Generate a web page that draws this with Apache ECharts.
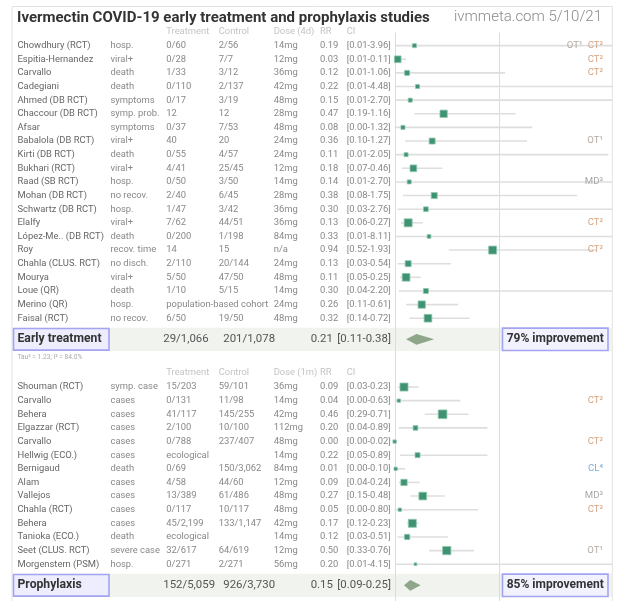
<!DOCTYPE html>
<html><head><meta charset="utf-8">
<script src="https://cdn.jsdelivr.net/npm/echarts@6/dist/echarts.min.js"></script>
<style>html,body{margin:0;padding:0;background:#fff}#c{width:621px;height:601px}</style>
</head><body><div id="c"></div>
<script>
// ---------------- data ----------------
const headersEarly = ['Treatment', 'Control', 'Dose (4d)', 'RR', 'CI'];
const headersProph = ['Treatment', 'Control', 'Dose (1m)', 'RR', 'CI'];

const earlyStudies = ['Chowdhury (RCT)','Espitia-Hernandez','Carvallo','Cadegiani','Ahmed (DB RCT)','Chaccour (DB RCT)','Afsar','Babalola (DB RCT)','Kirti (DB RCT)','Bukhari (RCT)','Raad (SB RCT)','Mohan (DB RCT)','Schwartz (DB RCT)','Elalfy','López-Me.. (DB RCT)','Roy','Chahla (CLUS. RCT)','Mourya','Loue (QR)','Merino (QR)','Faisal (RCT)'];
const earlyOutcome = ['hosp.','viral+','death','death','symptoms','symp. prob.','symptoms','viral+','death','viral+','hosp.','no recov.','hosp.','viral+','death','recov. time','no disch.','viral+','death','hosp.','no recov.'];
const earlyTreatment = ['0/60','0/28','1/33','0/110','0/17','12','0/37','40','0/55','4/41','0/50','2/40','1/47','7/62','0/200','14','2/110','5/50','1/10','population-based cohort','6/50'];
const earlyControl = ['2/56','7/7','3/12','2/137','3/19','12','7/53','20','4/57','25/45','3/50','6/45','3/42','44/51','1/198','15','20/144','47/50','5/15','','19/50'];
const earlyDose = ['14mg','12mg','36mg','42mg','48mg','28mg','48mg','24mg','24mg','12mg','14mg','28mg','36mg','36mg','84mg','n/a','24mg','48mg','14mg','24mg','48mg'];
const earlyRR = [0.19,0.03,0.12,0.22,0.15,0.47,0.08,0.36,0.11,0.18,0.14,0.38,0.30,0.13,0.33,0.94,0.13,0.11,0.30,0.26,0.32];
const earlyLo = [0.01,0.01,0.01,0.01,0.01,0.19,0.00,0.10,0.01,0.07,0.01,0.08,0.03,0.06,0.01,0.52,0.03,0.05,0.04,0.11,0.14];
const earlyHi = [3.96,0.11,1.06,4.48,2.70,1.16,1.32,1.27,2.05,0.46,2.70,1.75,2.76,0.27,8.11,1.93,0.54,0.25,2.20,0.61,0.72];
const earlyWeight = [2.2,6.1,3.4,2.2,2.2,7.3,2.2,4.9,2.2,6.1,2.2,4.9,3.0,8.7,1.9,8.7,4.9,8.1,3.4,7.3,8.1]; // % (estimated)
const earlyNote = ['OT¹ CT²','CT²','CT²','','','','','OT¹','','','MD³','','','CT²','','CT²','','','','',''];
const earlySummary = { label: 'Early treatment', treatment: '29/1,066', control: '201/1,078', rr: 0.21, lo: 0.11, hi: 0.38, improvement: '79% improvement' };
const earlyHeterogeneity = 'Tau² = 1.23; I² = 84.0%';

const prophStudies = ['Shouman (RCT)','Carvallo','Behera','Elgazzar (RCT)','Carvallo','Hellwig (ECO.)','Bernigaud','Alam','Vallejos','Chahla (RCT)','Behera','Tanioka (ECO.)','Seet (CLUS. RCT)','Morgenstern (PSM)'];
const prophOutcome = ['symp. case','cases','cases','cases','cases','cases','death','cases','cases','cases','cases','death','severe case','hosp.'];
const prophTreatment = ['15/203','0/131','41/117','2/100','0/788','ecological','0/69','4/58','13/389','0/117','45/2,199','ecological','32/617','0/271'];
const prophControl = ['59/101','11/98','145/255','10/100','237/407','','150/3,062','44/60','61/486','10/117','133/1,147','','64/619','2/271'];
const prophDose = ['36mg','14mg','42mg','112mg','48mg','14mg','84mg','12mg','48mg','48mg','42mg','14mg','12mg','56mg'];
const prophRR = [0.09,0.04,0.46,0.20,0.00,0.22,0.01,0.09,0.27,0.05,0.17,0.12,0.50,0.20];
const prophLo = [0.03,0.00,0.29,0.04,0.00,0.05,0.00,0.04,0.15,0.00,0.12,0.03,0.33,0.01];
const prophHi = [0.23,0.63,0.71,0.89,0.02,0.89,0.10,0.24,0.48,0.80,0.23,0.51,0.76,4.15];
const prophWeight = [12.9,2.2,15.2,4.4,2.2,5.0,2.2,8.0,11.9,2.2,12.9,5.6,13.8,1.5]; // % (estimated)
const prophNote = ['','CT²','','','CT²','','CL⁴','','MD³','CT²','','','OT¹',''];
const prophSummary = { label: 'Prophylaxis', treatment: '152/5,059', control: '926/3,730', rr: 0.15, lo: 0.09, hi: 0.25, improvement: '85% improvement' };

const titleText = 'Ivermectin COVID-19 early treatment and prophylaxis studies';
const sourceText = 'ivmmeta.com 5/10/21';

// ---------------- layout ----------------
const ROW = 13.65, Y0 = 45.7, YMIN = -2.5, YMAX = 40.75;
const GRID_TOP = Y0 + YMIN * ROW, GRID_H = (YMAX - YMIN) * ROW;
const FOREST_LEFT = 394.6, FOREST_W = 217.7, XMAX = 2.087;
const COL = { name: 17.5, outcome: 110.5, treat: 166.3, ctrl: 218.7, dose: 273.7, rr: 320, ci: 346.7 };
const SCOL = { treat: 163.3, ctrl: 223.3, rr: 310.7, ci: 337.3 };
const FONT = 'Roboto';
const F_BODY = '9.4px ' + FONT, F_HEAD = '9.4px ' + FONT, F_SUM = '11.4px ' + FONT,
      F_SUMB = 'bold 12.2px ' + FONT, F_IMP = 'bold 12px ' + FONT, F_TAU = '6.6px ' + FONT, F_NOTE = '9.6px ' + FONT;
const NOTE_COLORS = { 'CT': '#d4a584', 'OT': '#b4aaa2', 'MD': '#a8a8a8', 'CL': '#82a9dc' };

const sections = [
  { headers: headersEarly, headerY: -1, rowY0: 0, sumY: 21.55, tauY: 22.85,
    studies: earlyStudies, outcome: earlyOutcome, treat: earlyTreatment, ctrl: earlyControl, dose: earlyDose,
    rr: earlyRR, lo: earlyLo, hi: earlyHi, w: earlyWeight, note: earlyNote, sum: earlySummary, tau: earlyHeterogeneity, sizeK: 2.71 },
  { headers: headersProph, headerY: 24.0, rowY0: 25.05, sumY: 39.6, tauY: null,
    studies: prophStudies, outcome: prophOutcome, treat: prophTreatment, ctrl: prophControl, dose: prophDose,
    rr: prophRR, lo: prophLo, hi: prophHi, w: prophWeight, note: prophNote, sum: prophSummary, tau: null, sizeK: 2.23 }
];

// ---------------- build items ----------------
const texts = [], boxes = [], studyRows = [], diamonds = [];
function addT(x, y, text, font, color, align) { texts.push({ x, y, text, font, color, align: align || 'left' }); }
const fmt = v => v.toFixed(2);

sections.forEach(s => {
  const hx = [COL.treat, COL.ctrl, COL.dose, COL.rr, COL.ci];
  s.headers.forEach((h, k) => addT(hx[k], s.headerY, h, F_HEAD, '#c4c4c4'));
  s.studies.forEach((name, i) => {
    const y = s.rowY0 + i;
    addT(COL.name, y, name, F_BODY, '#666');
    addT(COL.outcome, y, s.outcome[i], F_BODY, '#888');
    addT(COL.treat, y, s.treat[i], F_BODY, '#888');
    if (s.ctrl[i]) addT(COL.ctrl, y, s.ctrl[i], F_BODY, '#888');
    addT(COL.dose, y, s.dose[i], F_BODY, '#888');
    addT(COL.rr, y, fmt(s.rr[i]), F_BODY, '#888');
    addT(COL.ci, y, '[' + fmt(s.lo[i]) + '-' + fmt(s.hi[i]) + ']', F_BODY, '#888');
    if (s.note[i]) {
      const parts = s.note[i].split(' ');
      let xr = 603;
      for (let p = parts.length - 1; p >= 0; p--) {
        texts.push({ x: xr, y: y, text: parts[p], font: F_NOTE, color: NOTE_COLORS[parts[p].slice(0, 2)] || '#aaa', align: 'right' });
        xr -= 20.5;
      }
    }
    // [lo, hi(clamped), rr, y, square size]
    studyRows.push([s.lo[i], Math.min(s.hi[i], XMAX), s.rr[i], y, s.sizeK * Math.sqrt(s.w[i])]);
  });
  boxes.push({ x0: 12, x1: 612, y: s.sumY, h: 11.6, fill: '#f1f3ef', stroke: null });
  boxes.push({ x0: 13.5, x1: 109, y: s.sumY, h: 10.8, fill: '#ededfd', stroke: '#a4a4f2' });
  boxes.push({ x0: 502.5, x1: 608, y: s.sumY, h: 11.2, fill: '#f2f2ff', stroke: '#a4a4f2' });
  addT(COL.name, s.sumY, s.sum.label, F_SUMB, '#333');
  addT(SCOL.treat, s.sumY, s.sum.treatment, F_SUM, '#555');
  addT(SCOL.ctrl, s.sumY, s.sum.control, F_SUM, '#555');
  addT(SCOL.rr, s.sumY, fmt(s.sum.rr), F_SUM, '#555');
  addT(SCOL.ci, s.sumY, '[' + fmt(s.sum.lo) + '-' + fmt(s.sum.hi) + ']', F_SUM, '#555');
  addT(555.2, s.sumY, s.sum.improvement, F_IMP, '#333', 'center');
  if (s.tau) addT(COL.name, s.tauY, s.tau, F_TAU, '#aaa');
  diamonds.push([s.sum.lo, s.sum.rr, s.sum.hi, s.sumY]);
});

// ---------------- chart ----------------
const chart = echarts.init(document.getElementById('c'));
const yAxisCfg = gi => ({ type: 'value', gridIndex: gi, min: YMIN, max: YMAX, inverse: true, show: false });

chart.setOption({
  animation: false,
  backgroundColor: '#fff',
  graphic: [
    { type: 'rect', z: 0, shape: { x: 12, y: 6.5, width: 600.3, height: 610 }, style: { fill: 'none', stroke: '#e3e3e3', lineWidth: 1 } },
    { type: 'text', z: 10, x: 17, y: 17.8, style: { text: titleText, font: 'bold 15px ' + FONT, fill: '#333', textVerticalAlign: 'middle', verticalAlign: 'middle' } },
    { type: 'text', z: 10, x: 602, y: 17.3, style: { text: sourceText, font: '300 15px ' + FONT, fill: '#8a8a8a', textAlign: 'right', align: 'right', textVerticalAlign: 'middle', verticalAlign: 'middle' } }
  ],
  grid: [
    { left: 0, width: 621, top: GRID_TOP, height: GRID_H },
    { left: FOREST_LEFT, width: FOREST_W, top: GRID_TOP, height: GRID_H }
  ],
  xAxis: [
    { type: 'value', gridIndex: 0, min: 0, max: 621, show: false },
    { type: 'value', gridIndex: 1, min: 0, max: XMAX, show: false }
  ],
  yAxis: [yAxisCfg(0), yAxisCfg(1)],
  series: [
    { // summary bands and labelled boxes
      type: 'custom', xAxisIndex: 0, yAxisIndex: 0, z: 1, silent: true,
      data: boxes.map(b => [b.x0, b.y]),
      renderItem: (params, api) => {
        const b = boxes[params.dataIndex];
        const p0 = api.coord([b.x0, b.y]), p1 = api.coord([b.x1, b.y]);
        return { type: 'rect', shape: { x: p0[0], y: p0[1] - b.h, width: p1[0] - p0[0], height: 2 * b.h },
          style: { fill: b.fill, stroke: b.stroke || 'none', lineWidth: b.stroke ? 1.6 : 0 } };
      }
    },
    { // reference lines at RR = 0 and RR = 1
      type: 'custom', xAxisIndex: 1, yAxisIndex: 1, z: 2, silent: true,
      data: [[0], [1]],
      renderItem: (params, api) => {
        const v = api.value(0);
        const a = api.coord([v, -0.95]), b = api.coord([v, YMAX]);
        return { type: 'line', shape: { x1: Math.round(a[0]) + 0.5, y1: a[1], x2: Math.round(b[0]) + 0.5, y2: b[1] }, style: { stroke: '#dcdcdc', lineWidth: 1 } };
      }
    },
    { // confidence intervals and study estimates
      type: 'custom', xAxisIndex: 1, yAxisIndex: 1, z: 3, silent: true,
      data: studyRows,
      renderItem: (params, api) => {
        const y = api.value(3);
        const a = api.coord([api.value(0), y]), b = api.coord([api.value(1), y]), c = api.coord([api.value(2), y]);
        const s = api.value(4);
        return { type: 'group', children: [
          { type: 'line', shape: { x1: a[0], y1: a[1], x2: b[0], y2: b[1] }, style: { stroke: '#dedede', lineWidth: 1.6 } },
          { type: 'rect', shape: { x: c[0] - s / 2, y: c[1] - s / 2, width: s, height: s }, style: { fill: '#3f9272', stroke: '#8fc8ad', lineWidth: 0.8 } }
        ] };
      }
    },
    { // pooled estimates
      type: 'custom', xAxisIndex: 1, yAxisIndex: 1, z: 4, silent: true,
      data: diamonds,
      renderItem: (params, api) => {
        const yv = api.value(3);
        const l = api.coord([api.value(0), yv]), c = api.coord([api.value(1), yv]), r = api.coord([api.value(2), yv]);
        const h = 5.4;
        return { type: 'polygon', shape: { points: [[l[0], l[1]], [c[0], l[1] - h], [r[0], l[1]], [c[0], l[1] + h]] }, style: { fill: '#8fa68b' } };
      }
    },
    { // table text
      type: 'custom', xAxisIndex: 0, yAxisIndex: 0, z: 6, silent: true,
      data: texts.map(t => [t.x, t.y]),
      renderItem: (params, api) => {
        const t = texts[params.dataIndex];
        const p = api.coord([t.x, t.y]);
        return { type: 'text', x: p[0], y: p[1],
          style: { text: t.text, font: t.font, fill: t.color, textAlign: t.align, align: t.align, textVerticalAlign: 'middle', verticalAlign: 'middle' } };
      }
    }
  ]
});
</script>
</body></html>
